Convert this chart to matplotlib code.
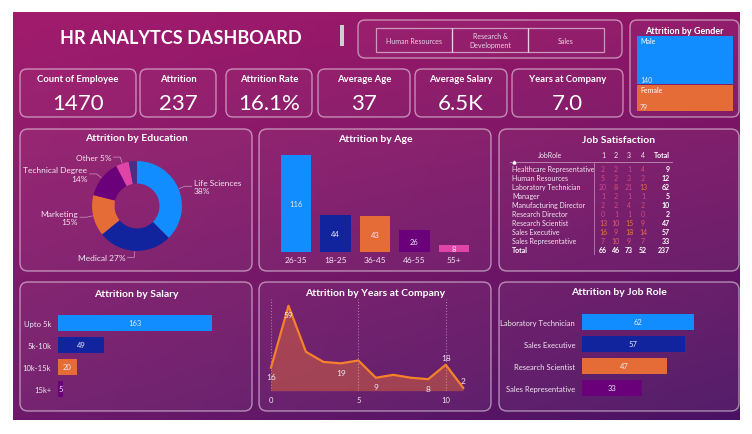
import numpy as np
import matplotlib.pyplot as plt
from matplotlib.patches import FancyBboxPatch, Rectangle
from matplotlib.colors import to_rgb, LinearSegmentedColormap

plt.rcParams['font.family'] = ['Lato', 'DejaVu Sans']

W, H = 752, 435

# ---- data ----
kpi_labels = ['Count of Employee', 'Attrition', 'Attrition Rate', 'Average Age',
              'Average Salary', 'Years at Company']
kpi_values = ['1470', '237', '16.1%', '37', '6.5K', '7.0']

departments = ['Human Resources', 'Research &\nDevelopment', 'Sales']

gender = ['Male', 'Female']
gender_attr = [140, 79]

edu_fields = ['Life Sciences', 'Medical', 'Marketing', 'Technical Degree', 'Other', 'Human Resources']
edu_attr = [89, 63, 35, 32, 11, 7]
edu_sep = ['\n', ' ', '\n', '\n', ' ', None]   # None = no label

age_groups = ['26-35', '18-25', '36-45', '46-55', '55+']
age_attr = [116, 44, 43, 26, 8]

salary_bands = ['Upto 5k', '5k-10k', '10k-15k', '15k+']
salary_attr = [163, 49, 20, 5]

years = list(range(12))
years_attr = [16, 59, 27, 20, 19, 21, 9, 11, 9, 8, 18, 2]
years_labels = {0: 9, 1: 9, 4: 9, 6: 9, 9: 9, 10: -7, 11: -7}   # index -> label offset (px)

top_roles = ['Laboratory Technician', 'Sales Executive', 'Research Scientist', 'Sales Representative']
role_attr = [62, 57, 47, 33]

job_roles = ['Healthcare Representative', 'Human Resources', 'Laboratory Technician', 'Manager',
             'Manufacturing Director', 'Research Director', 'Research Scientist',
             'Sales Executive', 'Sales Representative']
sat_levels = ['1', '2', '3', '4']
sat_counts = [[2, 2, 1, 4], [5, 2, 3, 2], [20, 8, 21, 13], [1, 2, 1, 1], [2, 2, 4, 2],
              [0, 1, 1, 0], [13, 10, 15, 9], [16, 9, 18, 14], [7, 10, 9, 7]]

pbi = ['#118DFF', '#12239E', '#E66C37', '#6B007B', '#E044A7', '#4B2E83']
txt = '#F2E6F0'

fig = plt.figure(figsize=(W / 100, H / 100), dpi=100)
fig.patch.set_facecolor('white')

bg = fig.add_axes([0, 0, 1, 1])
bg.axis('off')

# background gradient
x0b, x1b, y0b, y1b = 13, 740, 13, 421
gx = np.linspace(0, 1, 200)[None, :, None]
gy = np.linspace(0, 1, 120)[:, None, None]
tl, tr = np.array(to_rgb('#A21C6D')), np.array(to_rgb('#8E1566'))
bl, br = np.array(to_rgb('#6E1A6A')), np.array(to_rgb('#4A1263'))
grad = (tl * (1 - gx) * (1 - gy) + tr * gx * (1 - gy) + bl * (1 - gx) * gy + br * gx * gy)
bg.imshow(grad, extent=(x0b, x1b, y1b, y0b), aspect='auto', zorder=0)
bg.set_xlim(0, W)
bg.set_ylim(H, 0)


def panel(x0, y0, x1, y1, r=8, fill=0.05, alpha=0.5):
    bg.add_patch(FancyBboxPatch((x0, y0), x1 - x0, y1 - y0,
                                boxstyle=f'round,pad=0,rounding_size={r}',
                                fc=(1, 1, 1, fill), ec=(1, 1, 1, alpha), lw=1, zorder=1))


def px_axes(x0, y0, x1, y1):
    ax = fig.add_axes([x0 / W, 1 - y1 / H, (x1 - x0) / W, (y1 - y0) / H])
    ax.set_facecolor('none')
    for s in ax.spines.values():
        s.set_visible(False)
    return ax


def title(x, y, s, size=7.5):
    bg.text(x, y, s, color='white', fontsize=size, fontweight='bold', ha='center', va='center', zorder=3)


# ---- header ----
bg.text(181, 38, 'HR ANALYTCS DASHBOARD', color='white', fontsize=13, fontweight='bold',
        ha='center', va='center')
bg.add_patch(Rectangle((340, 26), 4, 21, fc='#CFCFCF', ec='none'))

panel(358, 21, 622, 59, r=7, fill=0.03)
bx = 376
for d in departments:
    bg.add_patch(Rectangle((bx, 29), 76, 24, fc='none', ec=(1, 1, 1, 0.55), lw=0.9))
    bg.text(bx + 38, 41, d, color='#E6D6E4', fontsize=5, ha='center', va='center', linespacing=1.3)
    bx += 76

# gender treemap
panel(630, 21, 739, 118, r=7, fill=0.04)
title(684.5, 31, 'Attrition by Gender', 6.5)
gt = 37
gh = 76
gcols = [pbi[0], pbi[2]]
for g, v, c in zip(gender, gender_attr, gcols):
    h = gh * v / sum(gender_attr)
    bg.add_patch(Rectangle((637, gt), 96, h - 0.8, fc=c, ec='none'))
    bg.text(640, gt + 5, g, color='white', fontsize=5, ha='left', va='center')
    bg.text(640, gt + h - 5, str(v), color='#E8E8F4', fontsize=5, ha='left', va='center')
    gt += h

# ---- KPI cards ----
cards = [(20, 136), (140, 216), (226, 312), (318, 410), (415, 507), (512, 623)]
for (cx0, cx1), lab, val in zip(cards, kpi_labels, kpi_values):
    panel(cx0, 70, cx1, 118, r=7, fill=0.03)
    cxm = (cx0 + cx1) / 2
    bg.text(cxm, 80, lab, color='white', fontsize=6.8, fontweight='bold', ha='center', va='center')
    bg.text(cxm, 104, val, color='white', fontsize=16, ha='center', va='center')

# ---- panels ----
panel(20, 130, 252, 272)
panel(259, 130, 491, 272)
panel(499, 130, 739, 272)
panel(20, 283, 252, 412)
panel(259, 283, 491, 412)
panel(499, 283, 739, 412)

title(136, 139, 'Attrition by Education')
title(375, 140, 'Attrition by Age')
title(619, 141, 'Job Satisfaction')
title(136, 295, 'Attrition by Salary')
title(375, 294, 'Attrition by Years at Company')
title(619, 293, 'Attrition by Job Role')

# ---- donut ----
ax = px_axes(57, 127, 217, 287)
wedges, _ = ax.pie(edu_attr, colors=pbi, startangle=90, counterclock=False, radius=1,
                   wedgeprops=dict(width=0.5, edgecolor='none'))
ax.set_xlim(-1.78, 1.78)
ax.set_ylim(-1.78, 1.78)
ax.axis('off')
tot = sum(edu_attr)
for w, name, v, sep in zip(wedges, edu_fields, edu_attr, edu_sep):
    if sep is None:
        continue
    ang = np.deg2rad((w.theta1 + w.theta2) / 2)
    c, s = np.cos(ang), np.sin(ang)
    p0 = (1.02 * c, 1.02 * s)
    p1 = (1.15 * c, 1.15 * s)
    side = 1 if c > 0 else -1
    p2 = (p1[0] + side * 0.15, p1[1])
    ax.plot([p0[0], p1[0], p2[0]], [p0[1], p1[1], p2[1]], color=(1, 1, 1, 0.45), lw=0.6, clip_on=False)
    ax.text(p2[0] + side * 0.05, p2[1], f'{name}{sep}{100 * v / tot:.0f}%', color=txt, fontsize=6,
            ha='left' if side > 0 else 'right', va='center', multialignment='left' if side > 0 else 'right')

# ---- age bars ----
ax = px_axes(276.25, 152.7, 473.75, 253)
ax.bar(range(len(age_groups)), age_attr, width=0.77, color=pbi[:5])
ax.set_xlim(-0.5, len(age_groups) - 0.5)
ax.set_ylim(0, 120)
for i, v in enumerate(age_attr):
    ax.text(i, v / 2, str(v), color='#E8E8F4', fontsize=5.5, ha='center', va='center')
ax.set_xticks(range(len(age_groups)), age_groups, color=txt, fontsize=6)
ax.tick_params(length=0, pad=3)
ax.set_yticks([])

# ---- job satisfaction table ----
cols_x = [603, 616, 629, 643]
bg.text(550, 156, 'JobRole', color=txt, fontsize=5, ha='center', va='center')
bg.plot([514], [162.5], marker='^', ms=2, color='white')
for lv, cx in zip(sat_levels, cols_x):
    bg.text(cx, 156, lv, color=txt, fontsize=5, ha='center', va='center')
bg.text(670, 156, 'Total', color='white', fontsize=5, fontweight='bold', ha='right', va='center')
bg.plot([510, 672], [163, 163], color=(1, 1, 1, 0.5), lw=0.6)
bg.plot([594, 594], [164, 255], color=(1, 1, 1, 0.45), lw=0.6)
vcmap = LinearSegmentedColormap.from_list('v', ['#C9478E', '#E2596A', '#F07A35'])
ry = 170
for role, row in zip(job_roles, sat_counts):
    bg.text(512, ry, role, color=txt, fontsize=5, ha='left', va='center')
    for v, cx in zip(row, cols_x):
        bg.text(cx, ry, str(v), color=vcmap(min(v / 18, 1)), fontsize=5, ha='center', va='center')
    bg.text(670, ry, str(sum(row)), color='white', fontsize=5, fontweight='bold', ha='right', va='center')
    ry += 9
bg.text(512, ry, 'Total', color='white', fontsize=5, fontweight='bold', ha='left', va='center')
col_tot = np.array(sat_counts).sum(axis=0)
for v, cx in zip(col_tot, cols_x):
    bg.text(cx, ry, str(v), color='white', fontsize=5, fontweight='bold', ha='center', va='center')
bg.text(670, ry, str(col_tot.sum()), color='white', fontsize=5, fontweight='bold', ha='right', va='center')


# ---- horizontal bars ----
def hbars(ax, cats, vals, xmax):
    ax.barh(range(len(cats)), vals, height=0.77, color=pbi[:4])
    ax.set_ylim(len(cats) - 0.5, -0.5)
    ax.set_xlim(0, xmax)
    for i, v in enumerate(vals):
        ax.text(v / 2, i, str(v), color='#E8E8F4', fontsize=5.5, ha='center', va='center')
    ax.set_yticks(range(len(cats)), cats, color=txt, fontsize=5.5)
    ax.set_xticks([])
    ax.tick_params(length=0, pad=5)


ax = px_axes(58, 313, 240, 401)
hbars(ax, salary_bands, salary_attr, 192.6)

ax = px_axes(582, 312, 725, 400)
hbars(ax, top_roles, role_attr, 79.2)

# ---- years line ----
ax = px_axes(271, 300, 463.2, 391.7)
ax.set_xlim(0, 11)
ax.set_ylim(0, 63.7)
for gxv in [0, 5, 10]:
    ax.axvline(gxv, color=(1, 1, 1, 0.4), ls=':', lw=0.8)
ax.fill_between(years, years_attr, color='#E66C37', alpha=0.45, lw=0)
ax.plot(years, years_attr, color='#F5822A', lw=1.6, clip_on=False)
for i, dy in years_labels.items():
    ax.annotate(str(years_attr[i]), (years[i], years_attr[i]), xytext=(0, -dy * 0.72),
                textcoords='offset points', color=txt, fontsize=6, ha='center', va='center')
ax.set_xticks([0, 5, 10], ['0', '5', '10'], color=txt, fontsize=5.5)
ax.set_yticks([])
ax.tick_params(length=0, pad=4)

fig.savefig('out.png', dpi=100)
